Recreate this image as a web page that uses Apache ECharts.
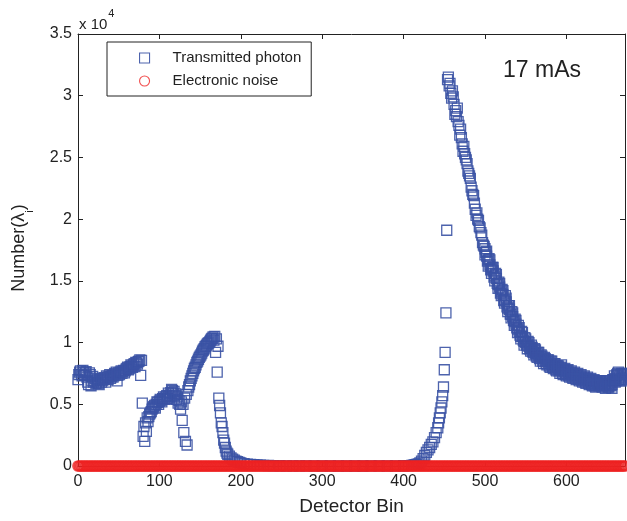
<!DOCTYPE html>
<html>
<head>
<meta charset="utf-8">
<script src="https://cdn.jsdelivr.net/npm/echarts@6/dist/echarts.min.js"></script>
<style>
html,body{margin:0;padding:0;background:#fff;}
#c{width:627px;height:521px;}
</style>
</head>
<body>
<div id="c"></div>
<script>
// Detector bins (x) and transmitted photon counts (y)
var bins = [
0,2,4,6,8,10,12,14,16,18,20,22,24,26,28,30,32,34,36,38,
40,42,44,46,48,50,52,54,56,58,60,62,64,66,68,70,72,74,76,77,78,79,
80,81,82,83,84,85,86,88,90,92,94,96,98,100,102,104,106,108,110,112,114,116,118,120,122,
124,125,126,127,128,129,130,131,132,133,134,135,136,137,138,140,142,144,146,148,150,152,154,156,158,160,162,164,166,167,168,169,170,171,172,
173,174,175,176,177,178,179,180,181,182,183,184,186,188,190,192,194,196,198,200,
204,208,212,216,220,224,228,234,240,248,256,264,272,280,290,300,310,320,330,340,350,360,370,380,390,400,406,410,
412,414,416,418,420,422,424,426,428,430,432,434,436,438,440,442,443,444,445,446,447,448,449,450,451,452,453,454,455,
456,458,460,462,464,466,468,470,472,474,476,478,480,482,484,486,488,490,492,494,496,498,500,502,504,506,
508,510,512,514,516,518,520,522,524,526,528,530,532,534,536,538,540,
542,544,546,548,550,552,554,556,558,560,562,564,566,568,570,572,574,576,578,580,582,584,586,588,590,592,594,596,598,600,
602,604,606,608,610,612,614,616,618,620,622,624,626,628,630,632,634,636,638,640,642,644,646,648,650,652,654,656,658,660,
662,664,666,668,670,672
];
var photons = [
7000,7600,7450,7750,7350,7650,6800,7550,6500,7250,6900,6700,7000,6600,7050,6950,7150,6800,7200,7250,
7100,7350,7300,7450,6900,7550,7600,7500,7750,7700,7900,7800,8050,8100,8200,8050,8350,8450,8600,7350,8550,5100,
2400,3200,2000,3500,2800,3900,3600,4200,4400,4700,4900,5000,5150,5250,5300,5450,5500,5600,5450,5750,5950,6100,6050,5850,5600,
5300,5000,4600,5200,3700,5000,2700,5500,2000,5800,1700,6100,6400,6600,6900,7300,7700,8000,8400,8650,8900,9150,9400,9650,9800,9950,10100,10300,10450,10200,10500,9200,10300,7600,9700,
5500,4900,4300,3500,3200,2700,2100,1850,1500,1200,1050,950,800,650,550,480,400,350,300,260,
200,160,130,100,80,60,50,40,30,20,15,10,8,5,5,3,3,2,2,2,2,3,5,8,12,20,30,50,
70,100,130,170,250,400,600,850,1100,1300,1500,1750,1950,2300,2700,3100,3500,3900,4300,4700,5200,5700,6400,7800,9200,12400,19100,31300,31500,
30800,30200,30400,29300,28800,29000,27600,27300,26100,25900,25000,24500,23700,23300,22300,21900,20800,20500,19900,19300,18700,17900,17600,17000,16700,16300,
16000,15800,15400,15200,14700,14500,14100,13900,13500,13300,12800,12700,12300,12100,11700,11500,11100,
10900,10500,10500,10100,10000,9900,9700,9600,9300,9400,9100,9100,8900,8900,8700,8700,8500,8500,8300,8400,8200,8200,8000,8100,7900,7800,7900,7700,7600,7700,
7500,7500,7400,7500,7300,7300,7200,7100,7200,7000,7100,6900,7000,6900,6800,6900,6700,6800,6700,6800,6600,6700,6900,6600,6700,6500,6800,6600,6900,7100,
7300,7000,7400,7100,7300,7200
];
var binsExtra = [
1,3,5,7,9,11,13,15,17,19,21,23,25,27,29,31,33,35,37,39,41,43,45,47,49,51,53,55,57,59,61,63,65,67,69,71,73,75,
87,89,91,93,95,97,99,101,103,105,107,109,111,113,115,117,119,121,123,
139,141,143,145,147,149,151,153,155,157,159,161,163,165,
457,459,461,463,465,467,469,471,473,475,477,479,481,483,485,487,489,491,493,495,497,499,501,503,505,507,509,511,513,515,517,519,521,523,525,527,529,
531,533,535,537,539,541,543,545,547,549,551,553,555,557,559,561,563,565,567,569,571,573,575,577,579,581,583,585,587,589,591,593,595,597,599,
601,603,605,607,609,611,613,615,617,619,621,623,625,627,629,631,633,635,637,639,641,643,645,647,649,651,653,655,657,659,661,663,665,667,669,671
];
var photonsExtra = [
7400,7700,7300,7600,7550,7200,6600,7400,6900,6800,7100,6800,6700,6900,6800,7000,7050,7300,7000,7400,7250,7200,7500,7600,7350,7400,7700,7650,7550,7850,8000,7900,8200,8000,8300,8400,8250,8500,
4000,4300,4600,4800,4700,5200,5000,5400,5200,5600,5400,5700,5900,5600,6200,5900,5700,5400,5100,
7100,7500,7900,8200,8500,8800,9000,9300,9500,9700,9900,10000,10200,10350,
31000,29800,29900,28500,28300,27900,26800,26600,25500,25300,24800,23900,23500,22600,22000,21300,20300,20000,19400,18900,18100,17800,17300,16600,16800,15900,16100,15300,15600,14800,14900,14000,14300,13400,13800,12900,13000,
12300,12500,11800,11900,11200,11400,10600,10900,10200,10400,9800,10100,9500,9800,9200,9500,8900,9200,8700,9000,8500,8800,8300,8600,8100,8500,8000,8300,7800,8100,7700,8000,7500,7800,7400,
7700,7300,7600,7200,7500,7100,7400,7000,7300,6900,7200,6800,7100,6700,7000,6600,6900,6500,6900,6600,6900,6500,6800,6600,6900,6400,6700,6500,7000,7300,6900,7500,7200,7000,7400,6900
];
// Repeated readings in the dense tail of the scatter
var binsRepeat = [
500,502,504,506,508,510,512,514,516,518,520,522,524,526,528,530,532,534,536,538,
540,542,544,546,548,550,552,554,556,558,560,562,564,566,568,570,572,574,576,578,
580,582,584,586,588,590,592,594,596,598,600,602,604,606,608,610,612,614,616,618,
620,622,624,626,628,630,632,634,636,638,640,642,644,646,648,650,652,654,656,658,
660,662,664,666,668,670,672
];
var photonsRepeat = [
17100,17400,16200,16700,15600,16100,15000,15500,14400,14800,13800,14200,13200,13600,12500,13000,12000,12400,11400,11800,
10800,11200,10300,10800,9800,10300,9500,10000,9300,9600,9000,9400,8800,9200,8500,8900,8300,8700,8200,8600,
8000,8500,7900,8300,7700,8100,7500,8200,7400,7900,7300,7800,7200,7700,7100,7600,7000,7500,6900,7400,
6800,7300,6700,7200,6600,7100,6500,7000,6400,6900,6500,6900,6400,6600,6300,6900,6400,6600,6300,7000,
6800,7400,7600,6900,7500,7000,7500
];
// Electronic noise: bins and values
var noiseBins = [
0,2,4,6,8,10,12,14,16,18,20,22,24,26,28,30,32,34,36,38,
40,42,44,46,48,50,52,54,56,58,60,62,64,66,68,70,72,74,76,78,
80,82,84,86,88,90,92,94,96,98,100,102,104,106,108,110,112,114,116,118,
120,122,124,126,128,130,132,134,136,138,140,142,144,146,148,150,152,154,156,158,
160,162,164,166,168,170,172,174,176,178,180,182,184,186,188,190,192,194,196,198,
200,202,204,206,208,210,212,214,216,218,220,222,224,226,228,230,232,234,236,238,
240,242,244,246,248,250,252,254,256,258,260,262,264,266,268,270,272,274,276,278,
280,282,284,286,288,290,292,294,296,298,300,302,304,306,308,310,312,314,316,318,
320,322,324,326,328,330,332,334,336,338,340,342,344,346,348,350,352,354,356,358,
360,362,364,366,368,370,372,374,376,378,380,382,384,386,388,390,392,394,396,398,
400,402,404,406,408,410,412,414,416,418,420,422,424,426,428,430,432,434,436,438,
440,442,444,446,448,450,452,454,456,458,460,462,464,466,468,470,472,474,476,478,
480,482,484,486,488,490,492,494,496,498,500,502,504,506,508,510,512,514,516,518,
520,522,524,526,528,530,532,534,536,538,540,542,544,546,548,550,552,554,556,558,
560,562,564,566,568,570,572,574,576,578,580,582,584,586,588,590,592,594,596,598,
600,602,604,606,608,610,612,614,616,618,620,622,624,626,628,630,632,634,636,638,
640,642,644,646,648,650,652,654,656,658,660,662,664,666,668,670,672
];
var noise = [
0,0,0,0,0,0,0,0,0,0,0,0,0,0,0,0,0,0,0,0,
0,0,0,0,0,0,0,0,0,0,0,0,0,0,0,0,0,0,0,0,
0,0,0,0,0,0,0,0,0,0,0,0,0,0,0,0,0,0,0,0,
0,0,0,0,0,0,0,0,0,0,0,0,0,0,0,0,0,0,0,0,
0,0,0,0,0,0,0,0,0,0,0,0,0,0,0,0,0,0,0,0,
0,0,0,0,0,0,0,0,0,0,0,0,0,0,0,0,0,0,0,0,
0,0,0,0,0,0,0,0,0,0,0,0,0,0,0,0,0,0,0,0,
0,0,0,0,0,0,0,0,0,0,0,0,0,0,0,0,0,0,0,0,
0,0,0,0,0,0,0,0,0,0,0,0,0,0,0,0,0,0,0,0,
0,0,0,0,0,0,0,0,0,0,0,0,0,0,0,0,0,0,0,0,
0,0,0,0,0,0,0,0,0,0,0,0,0,0,0,0,0,0,0,0,
0,0,0,0,0,0,0,0,0,0,0,0,0,0,0,0,0,0,0,0,
0,0,0,0,0,0,0,0,0,0,0,0,0,0,0,0,0,0,0,0,
0,0,0,0,0,0,0,0,0,0,0,0,0,0,0,0,0,0,0,0,
0,0,0,0,0,0,0,0,0,0,0,0,0,0,0,0,0,0,0,0,
0,0,0,0,0,0,0,0,0,0,0,0,0,0,0,0,0,0,0,0,
0,0,0,0,0,0,0,0,0,0,0,0,0,0,0,0,0
];
var yTicks = [0, 5000, 10000, 15000, 20000, 25000, 30000, 35000];

var FONT = '"Liberation Sans", Arial, Helvetica, sans-serif';
var TXT = '#222';

function pairs(xs, ys, out) {
  for (var i = 0; i < Math.min(xs.length, ys.length); i++) out.push([xs[i], ys[i]]);
  return out;
}
var photonData = [];
pairs(bins, photons, photonData);
pairs(binsExtra, photonsExtra, photonData);
pairs(binsRepeat, photonsRepeat, photonData);
var noiseData = pairs(noiseBins, noise, []);

var chart = echarts.init(document.getElementById('c'), null, {renderer: 'canvas'});
var axisLineStyle = {color: '#222', width: 1};
chart.setOption({
  animation: false,
  backgroundColor: '#fff',
  grid: {left: 78, top: 34, right: 2, bottom: 55, containLabel: false},
  legend: {
    orient: 'vertical',
    left: 107, top: 42,
    backgroundColor: '#fff',
    borderColor: '#222', borderWidth: 1,
    padding: [7, 10, 6, 32],
    itemWidth: 10, itemHeight: 10,
    itemGap: 5,
    textStyle: {fontFamily: FONT, fontSize: 15, color: TXT, lineHeight: 18, padding: [0, 0, 0, 18]},
    data: [
      {name: 'Transmitted photon', itemStyle: {borderWidth: 1.1}},
      {name: 'Electronic noise', itemStyle: {borderWidth: 1.1}}
    ]
  },
  xAxis: [{
    type: 'value', position: 'bottom', min: 0, max: 672, interval: 100,
    axisLine: {onZero: false, lineStyle: axisLineStyle},
    axisTick: {inside: true, length: 5, lineStyle: axisLineStyle},
    axisLabel: {fontFamily: FONT, fontSize: 16, color: TXT, margin: 8, showMaxLabel: false,
      formatter: function (v) { return v % 100 === 0 ? String(v) : ''; }},
    splitLine: {show: false},
    name: 'Detector Bin', nameLocation: 'middle', nameGap: 31,
    nameTextStyle: {fontFamily: FONT, fontSize: 19, color: TXT}
  }, {
    type: 'value', position: 'top', min: 0, max: 672, interval: 100,
    axisLine: {onZero: false, lineStyle: axisLineStyle},
    axisTick: {inside: true, length: 5, lineStyle: axisLineStyle},
    axisLabel: {show: false}, splitLine: {show: false}
  }],
  yAxis: [{
    type: 'value', position: 'left', min: yTicks[0], max: yTicks[yTicks.length - 1], interval: 5000,
    axisLine: {onZero: false, lineStyle: axisLineStyle},
    axisTick: {inside: true, length: 5, lineStyle: axisLineStyle},
    axisLabel: {fontFamily: FONT, fontSize: 16, color: TXT, margin: 6,
      formatter: function (v) { return String(v / 10000); }},
    splitLine: {show: false}
  }, {
    type: 'value', position: 'right', min: yTicks[0], max: yTicks[yTicks.length - 1], interval: 5000,
    axisLine: {onZero: false, lineStyle: axisLineStyle},
    axisTick: {inside: true, length: 5, lineStyle: axisLineStyle},
    axisLabel: {show: false}, splitLine: {show: false}
  }],
  series: [{
    name: 'Transmitted photon', type: 'scatter', xAxisIndex: 0, yAxisIndex: 0,
    symbol: 'rect', symbolSize: 10, clip: false,
    itemStyle: {color: 'rgba(0,0,0,0)', borderColor: '#3a52a4', borderWidth: 1.3, opacity: 0.9},
    data: photonData, z: 2
  }, {
    name: 'Electronic noise', type: 'scatter', xAxisIndex: 0, yAxisIndex: 0,
    symbol: 'circle', symbolSize: 9.5, clip: false,
    itemStyle: {color: 'rgba(0,0,0,0)', borderColor: '#ee2222', borderWidth: 2.2},
    data: noiseData, z: 3
  }],
  graphic: [{
    type: 'text', left: 79, top: 8,
    style: {
      text: '{a|x 10}{b|4}',
      rich: {
        a: {fontFamily: FONT, fontSize: 15, fill: TXT, verticalAlign: 'bottom', lineHeight: 24},
        b: {fontFamily: FONT, fontSize: 11, fill: TXT, verticalAlign: 'top', lineHeight: 24, padding: [0, 0, 0, 1]}
      }
    }
  }, {
    type: 'text', x: 542, y: 71,
    style: {text: '17 mAs', fontFamily: FONT, fontSize: 23, fill: TXT, align: 'center', verticalAlign: 'middle'}
  }, {
    type: 'text', x: 23, y: 248, rotation: Math.PI / 2,
    style: {
      text: '{a|Number(λ}{s|i}{a|)}',
      align: 'center', verticalAlign: 'middle',
      rich: {
        a: {fontFamily: FONT, fontSize: 18, fill: TXT, lineHeight: 25, verticalAlign: 'top'},
        s: {fontFamily: FONT, fontSize: 11, fill: TXT, lineHeight: 25, verticalAlign: 'bottom'}
      }
    }
  }]
});
</script>
</body>
</html>
